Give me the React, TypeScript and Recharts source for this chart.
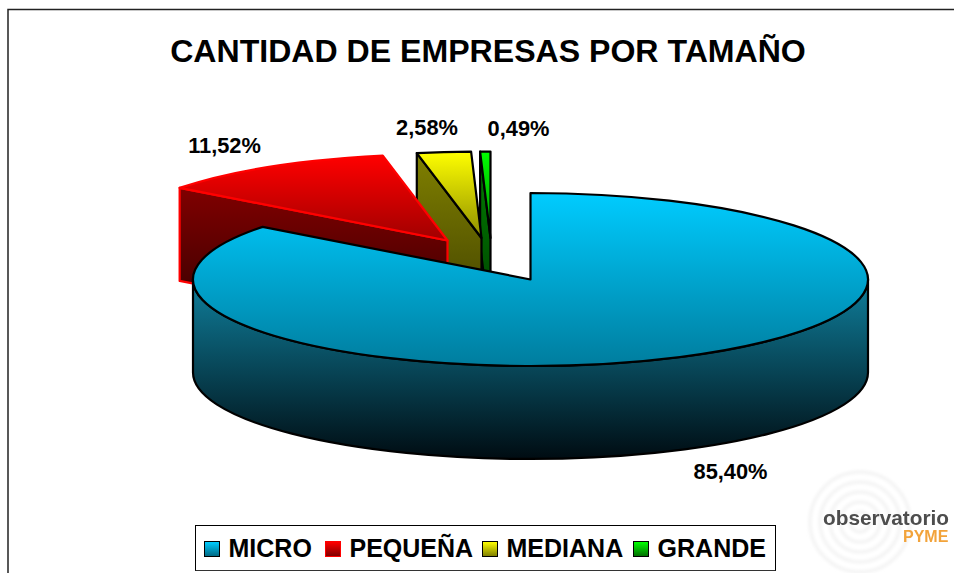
import React from 'react';
import { PieChart, Pie, Legend } from 'recharts';

const categories = ['MICRO', 'PEQUEÑA', 'MEDIANA', 'GRANDE'];
const shares = [85.4, 11.52, 2.58, 0.49];

// Painted back to front, so the table runs the other way round the pie
const pieData = categories
  .map((name, i) => ({ name, value: shares[i] }))
  .reverse();

const WIDTH = 954;
const HEIGHT = 573;
const CX = 530.5;
const CY = 279.5;
const RADIUS = 337.5;
const TILT = 86.5 / 337.5;
const DEPTH = 93;

const explode: Record<string, [number, number]> = {
  MICRO: [0, 0],
  'PEQUEÑA': [-83, -39],
  MEDIANA: [-49, -41.5],
  GRANDE: [-40, -41.5],
};

const strokes: Record<string, string> = {
  MICRO: '#000',
  'PEQUEÑA': '#ff0000',
  MEDIANA: '#000',
  GRANDE: '#000',
};

const swatches: Record<string, string> = {
  MICRO: 'linear-gradient(#00ccff, #006a85)',
  'PEQUEÑA': 'linear-gradient(#ff0000, #800000)',
  MEDIANA: 'linear-gradient(#ffff00, #808000)',
  GRANDE: 'linear-gradient(#00ff00, #007000)',
};

const legendGaps: Record<string, number> = {
  MICRO: 13.2,
  'PEQUEÑA': 8.9,
  MEDIANA: 9.9,
  GRANDE: 0,
};

const labelPos: Record<string, [number, number]> = {
  MICRO: [730.5, 479],
  'PEQUEÑA': [224.5, 153],
  MEDIANA: [427, 135],
  GRANDE: [518.5, 136],
};

const logoRings = [10, 20, 30, 40, 50];

const point = (ox: number, oy: number, deg: number) => {
  const a = (deg * Math.PI) / 180;
  return [ox + RADIUS * Math.cos(a), oy - RADIUS * TILT * Math.sin(a)];
};

// Flattened sector with its visible cut face and outer wall
const Slice3D = (props: any) => {
  const { startAngle, endAngle, cx, cy, name } = props;
  const [dx, dy] = explode[name];
  const ox = cx + dx;
  const oy = cy + dy;
  const rx = RADIUS;
  const ry = RADIUS * TILT;
  const stroke = strokes[name];
  const id = name === 'PEQUEÑA' ? 'pequena' : name.toLowerCase();

  const [sx, sy] = point(ox, oy, startAngle);
  const [ex, ey] = point(ox, oy, endAngle);
  const large = endAngle - startAngle > 180 ? 1 : 0;
  const top = `M${ox},${oy} L${sx},${sy} A${rx},${ry} 0 ${large} 0 ${ex},${ey} Z`;

  const wallFrom = Math.max(startAngle, 180);
  const wallTo = Math.min(endAngle, 360);
  let wall = '';
  if (wallTo > wallFrom) {
    const [ax, ay] = point(ox, oy, wallFrom);
    const [bx, by] = point(ox, oy, wallTo);
    wall = `M${ax},${ay} A${rx},${ry} 0 0 0 ${bx},${by} L${bx},${by + DEPTH} A${rx},${ry} 0 0 1 ${ax},${ay + DEPTH} Z`;
  }

  const cutVisible = endAngle > 90 && endAngle < 180;
  const cut = `M${ex},${ey} L${ox},${oy} L${ox},${oy + DEPTH} L${ex},${ey + DEPTH} Z`;

  return (
    <g strokeLinejoin="round" stroke={stroke} strokeWidth={2.2}>
      {wall && <path d={wall} fill={`url(#${id}-side)`} />}
      {cutVisible && <path d={cut} fill={`url(#${id}-side)`} />}
      <path d={top} fill={`url(#${id}-top)`} />
    </g>
  );
};

const renderLabel = (props: any) => {
  const [x, y] = labelPos[props.name];
  const text = `${props.value.toFixed(2).replace('.', ',')}%`;
  return (
    <text
      x={x}
      y={y}
      textAnchor="middle"
      fontFamily="'Liberation Sans', Arial, sans-serif"
      fontWeight="bold"
      fontSize={21.8}
      fill="#000"
    >
      {text}
    </text>
  );
};

const LegendBox = () => (
  <div
    style={{
      boxSizing: 'border-box',
      width: 581,
      height: 46,
      border: '1.5px solid #000',
      borderBottomColor: '#333',
      background: '#fff',
      display: 'flex',
      alignItems: 'center',
      paddingLeft: 8,
      fontFamily: "'Liberation Sans', Arial, sans-serif",
      fontWeight: 'bold',
      fontSize: 25,
      color: '#000',
      lineHeight: '30px',
    }}
  >
    {categories.map((name) => (
      <span key={name} style={{ display: 'flex', alignItems: 'center', marginRight: legendGaps[name] }}>
        <span
          style={{
            boxSizing: 'border-box',
            width: 16,
            height: 16,
            marginRight: 8.5,
            marginTop: 2,
            border: `1.5px solid ${name === 'PEQUEÑA' ? '#ff0000' : '#000'}`,
            background: swatches[name],
          }}
        />
        {name}
      </span>
    ))}
  </div>
);

const gradient = (id: string, from: string, to: string) => (
  <linearGradient id={id} x1="0" y1="0" x2="0" y2="1">
    <stop offset="0%" stopColor={from} />
    <stop offset="100%" stopColor={to} />
  </linearGradient>
);

const App: React.FC = () => (
  <div style={{ position: 'absolute', left: 0, top: 0, width: WIDTH, height: HEIGHT, overflow: 'hidden', background: '#fff' }}>
    <PieChart width={WIDTH} height={HEIGHT} margin={{ top: 0, right: 0, bottom: 0, left: 0 }}>
      <defs>
        {gradient('micro-top', '#00ccff', '#007d9e')}
        {gradient('micro-side', '#0f7f9c', '#000c12')}
        {gradient('pequena-top', '#ff0000', '#a00000')}
        {gradient('pequena-side', '#800000', '#2e0000')}
        {gradient('mediana-top', '#ffff00', '#8f8f00')}
        {gradient('mediana-side', '#808000', '#3d3d00')}
        {gradient('grande-top', '#00ff00', '#009000')}
        {gradient('grande-side', '#008000', '#003d00')}
        <filter id="soft" x="-5%" y="-10%" width="110%" height="120%">
          <feGaussianBlur stdDeviation="0.55" />
        </filter>
        <filter id="softer" x="-10%" y="-10%" width="120%" height="120%">
          <feGaussianBlur stdDeviation="1.5" />
        </filter>
      </defs>

      <path d="M8,573 L8,9.5 L954,9.5" fill="none" stroke="#222" strokeWidth={1.5} />

      <text
        x={488}
        y={61.5}
        textAnchor="middle"
        fontFamily="'Liberation Sans', Arial, sans-serif"
        fontWeight="bold"
        fontSize={32.1}
        fill="#000"
      >
        CANTIDAD DE EMPRESAS POR TAMAÑO
      </text>

      <g filter="url(#softer)" fill="none" stroke="#f4f4f4" strokeWidth={3.5}>
        {logoRings.map((r) => (
          <circle key={r} cx={860} cy={522} r={r} />
        ))}
      </g>
      <g filter="url(#soft)" fontFamily="'Liberation Sans', Arial, sans-serif" fontWeight="bold">
        <text x={823} y={525} fontSize={20.8} fill="#4d4d4d">observatorio</text>
        <text x={903} y={542} fontSize={16} fill="#f2a33a">PYME</text>
      </g>

      <Pie
        data={pieData}
        dataKey="value"
        nameKey="name"
        cx={CX}
        cy={CY}
        innerRadius={0}
        outerRadius={RADIUS}
        startAngle={90}
        endAngle={450}
        stroke="none"
        isAnimationActive={false}
        shape={Slice3D}
        activeShape={Slice3D}
        inactiveShape={Slice3D}
        label={renderLabel}
        labelLine={false}
      />
      <Legend
        content={<LegendBox />}
        wrapperStyle={{ left: 195, top: 525, bottom: 'auto', width: 581 }}
      />
    </PieChart>
  </div>
);

export default App;
